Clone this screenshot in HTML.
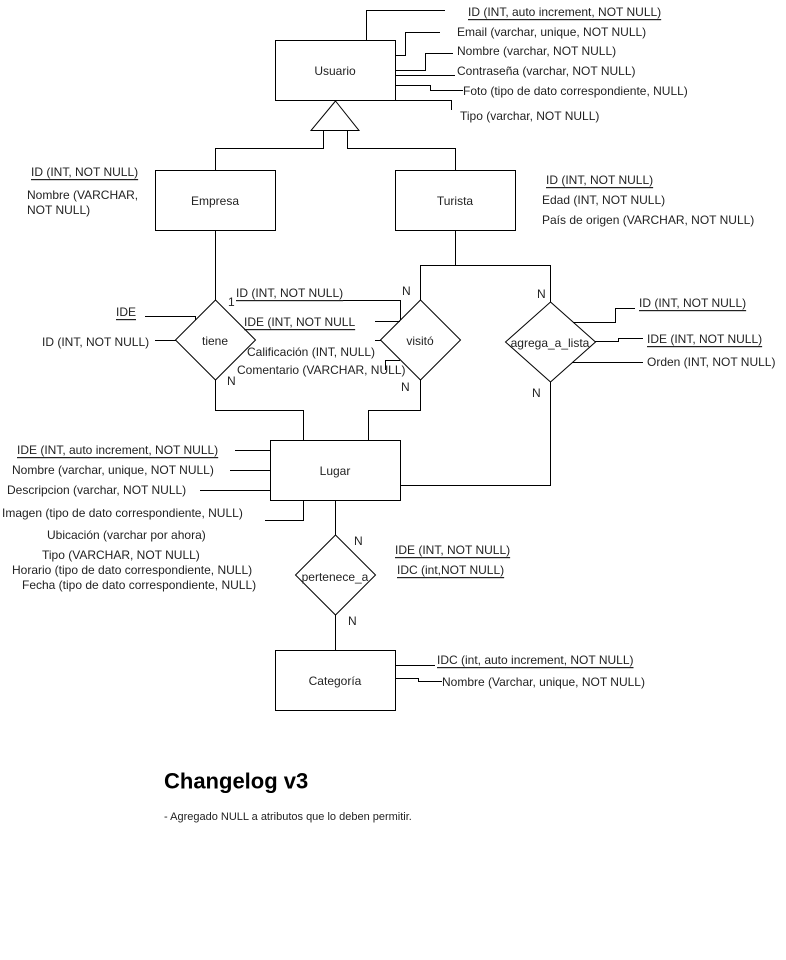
<!DOCTYPE html>
<html><head><meta charset="utf-8"><style>
body{margin:0;background:#fff;}
svg{display:block;font-family:"Liberation Sans",Arial,sans-serif;}
text{font-size:12px;fill:#222;dominant-baseline:central;}
.u{text-decoration:underline;}
</style></head><body>
<svg width="786" height="960" viewBox="0 0 786 960">
<g fill="none" stroke="#000" stroke-width="1">
<rect x="275.5" y="40.5" width="120" height="60" fill="#fff"/>
<polygon points="335.5,101 311,130.5 359,130.5"/>
<polyline points="323.5,130 323.5,148.5 215.5,148.5 215.5,170"/>
<polyline points="347.5,130 347.5,148.5 455.5,148.5 455.5,170"/>
<rect x="155.5" y="170.5" width="120" height="60"/>
<rect x="395.5" y="170.5" width="120" height="60"/>
<polyline points="366.5,40 366.5,10.5 445,10.5"/>
<polyline points="395,55.5 405.5,55.5 405.5,32.5 440,32.5"/>
<polyline points="395,70.5 425.5,70.5 425.5,53.5 453,53.5"/>
<polyline points="395,75.5 455,75.5"/>
<polyline points="395,85.5 430.5,85.5 430.5,90.5 463,90.5"/>
<polyline points="395,100.5 451.5,100.5 451.5,110"/>
<polygon points="215.5,300 255.5,340 215.5,380 175.5,340"/>
<line x1="215.5" y1="230" x2="215.5" y2="300"/>
<polyline points="215.5,380 215.5,410.5 303.5,410.5 303.5,440"/>
<polygon points="420.5,300 460.5,340 420.5,380 380.5,340"/>
<polyline points="455.5,230 455.5,265.5 550.5,265.5 550.5,302"/>
<polyline points="420.5,300 420.5,265.5 455.5,265.5"/>
<polyline points="420.5,380 420.5,410.5 368.5,410.5 368.5,440"/>
<polygon points="550.5,302 595.5,342 550.5,382 505.5,342"/>
<polyline points="550.5,382 550.5,485.5 400,485.5"/>
<rect x="270.5" y="440.5" width="130" height="60"/>
<polyline points="305,300.5 400.5,300.5 400.5,320"/>
<line x1="375" y1="321.5" x2="400" y2="321.5"/>
<line x1="375" y1="340.5" x2="381" y2="340.5"/>
<polyline points="385.5,370 385.5,360.5 400,360.5"/>
<polyline points="145,316.5 195.5,316.5 195.5,320"/>
<line x1="155" y1="340.5" x2="176" y2="340.5"/>
<polyline points="573,322.5 615.5,322.5 615.5,308.5 635,308.5"/>
<polyline points="595,341.5 618.5,341.5 618.5,338.5 643,338.5"/>
<line x1="572" y1="362.5" x2="643" y2="362.5"/>
<line x1="235" y1="450.5" x2="270" y2="450.5"/>
<line x1="230" y1="470.5" x2="270" y2="470.5"/>
<line x1="200" y1="490.5" x2="270" y2="490.5"/>
<polyline points="265,520.5 303.5,520.5 303.5,500"/>
<line x1="335.5" y1="500" x2="335.5" y2="535"/>
<polygon points="335.5,535 375.5,575 335.5,615 295.5,575"/>
<line x1="335.5" y1="615" x2="335.5" y2="650"/>
<rect x="275.5" y="650.5" width="120" height="60"/>
<polyline points="395,665.5 435,665.5"/>
<polyline points="395,678.5 418.5,678.5 418.5,681.5 442,681.5"/>
</g>
<g transform="translate(0,1)">
<text x="335" y="70" text-anchor="middle">Usuario</text>
<text x="215" y="200" text-anchor="middle">Empresa</text>
<text x="455" y="200" text-anchor="middle">Turista</text>
<text x="215" y="340" text-anchor="middle">tiene</text>
<text x="420" y="340" text-anchor="middle">visitó</text>
<text x="550" y="342" text-anchor="middle">agrega_a_lista</text>
<text x="335" y="470" text-anchor="middle">Lugar</text>
<text x="335" y="576" text-anchor="middle">pertenece_a</text>
<text x="335" y="680" text-anchor="middle">Categoría</text>
<text x="468" y="11" class="u">ID (INT, auto  increment, NOT NULL)</text>
<text x="457" y="31">Email (varchar, unique, NOT NULL)</text>
<text x="457" y="50">Nombre (varchar, NOT NULL)</text>
<text x="457" y="70">Contraseña (varchar, NOT NULL)</text>
<text x="463" y="90">Foto (tipo de dato correspondiente, NULL)</text>
<text x="460" y="115">Tipo (varchar, NOT NULL)</text>
<text x="31" y="171" class="u">ID (INT, NOT NULL)</text>
<text x="27" y="194">Nombre (VARCHAR,</text>
<text x="27" y="209">NOT NULL)</text>
<text x="546" y="179" class="u">ID (INT, NOT NULL)</text>
<text x="542" y="199">Edad (INT, NOT NULL)</text>
<text x="542" y="219">País de origen (VARCHAR, NOT NULL)</text>
<text x="116" y="311" class="u">IDE</text>
<text x="42" y="341">ID (INT, NOT NULL)</text>
<text x="228" y="301">1</text>
<text x="236" y="292" class="u">ID (INT, NOT NULL)</text>
<text x="244" y="321" class="u">IDE (INT, NOT NULL</text>
<text x="247" y="351">Calificación (INT, NULL)</text>
<text x="237" y="369">Comentario (VARCHAR, NULL)</text>
<text x="227" y="380">N</text>
<text x="402" y="290">N</text>
<text x="401" y="386">N</text>
<text x="537" y="293">N</text>
<text x="532" y="392">N</text>
<text x="639" y="302" class="u">ID (INT, NOT NULL)</text>
<text x="647" y="338" class="u">IDE (INT, NOT NULL)</text>
<text x="647" y="361">Orden (INT, NOT NULL)</text>
<text x="17" y="449" class="u">IDE (INT, auto increment, NOT NULL)</text>
<text x="12" y="469">Nombre (varchar, unique, NOT NULL)</text>
<text x="7" y="489">Descripcion (varchar, NOT NULL)</text>
<text x="2" y="512">Imagen (tipo de dato correspondiente, NULL)</text>
<text x="47" y="534">Ubicación (varchar por ahora)</text>
<text x="42" y="554">Tipo (VARCHAR, NOT NULL)</text>
<text x="12" y="569">Horario (tipo de dato correspondiente, NULL)</text>
<text x="22" y="584">Fecha (tipo de dato correspondiente, NULL)</text>
<text x="354" y="540">N</text>
<text x="348" y="620">N</text>
<text x="395" y="549" class="u">IDE (INT, NOT NULL)</text>
<text x="397" y="569" class="u">IDC (int,NOT NULL)</text>
<text x="437" y="659" class="u">IDC (int, auto increment, NOT NULL)</text>
<text x="442" y="681">Nombre (Varchar, unique, NOT NULL)</text>
<text x="164" y="780" style="font-size:22px;font-weight:bold;fill:#000">Changelog v3</text>
<text x="164" y="816" style="font-size:11px">- Agregado NULL a atributos que lo deben permitir.</text>
</g>
</svg>
</body></html>
